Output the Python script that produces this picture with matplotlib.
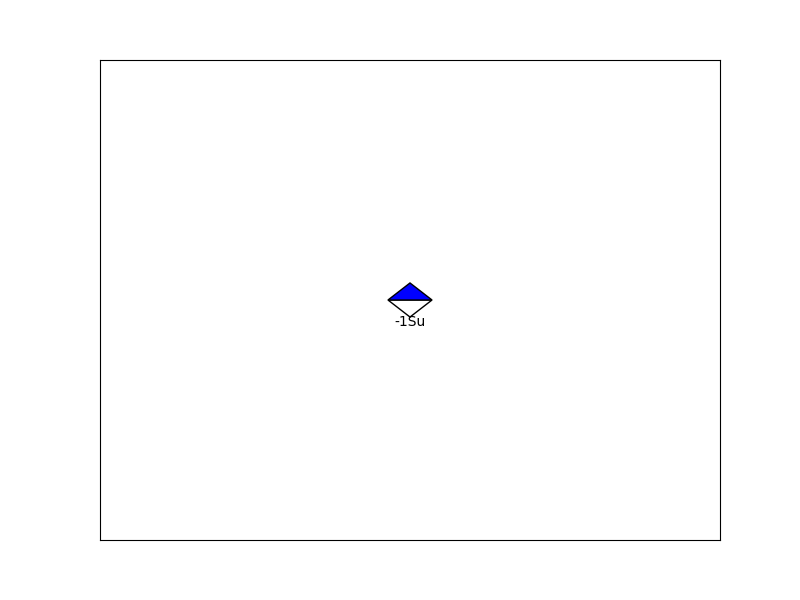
import matplotlib
matplotlib.use('Agg')
import matplotlib.pyplot as plt
from matplotlib.patches import Polygon

# flow value and unit shown under the marker
flow_value = -1
unit = 'Su'
marker_center = (0.0, 0.0)
half_width = 0.071
half_height = 0.071

fig = plt.figure(figsize=(8, 6), dpi=100)
ax = fig.add_axes([0.125, 0.1, 0.775, 0.8])
ax.set_xlim(-1, 1)
ax.set_ylim(-1, 1)
ax.set_xticks([])
ax.set_yticks([])

cx, cy = marker_center
# upper half filled blue, lower half white
top = Polygon([(cx - half_width, cy), (cx, cy + half_height), (cx + half_width, cy)],
              closed=True, facecolor='blue', edgecolor='black', linewidth=1)
bottom = Polygon([(cx - half_width, cy), (cx, cy - half_height), (cx + half_width, cy)],
                 closed=True, facecolor='white', edgecolor='black', linewidth=1)
ax.add_patch(bottom)
ax.add_patch(top)

ax.text(cx, cy - half_height * 1.3, f'{flow_value:G}{unit}', ha='center', va='center', fontsize=10)

fig.savefig('out.png')
